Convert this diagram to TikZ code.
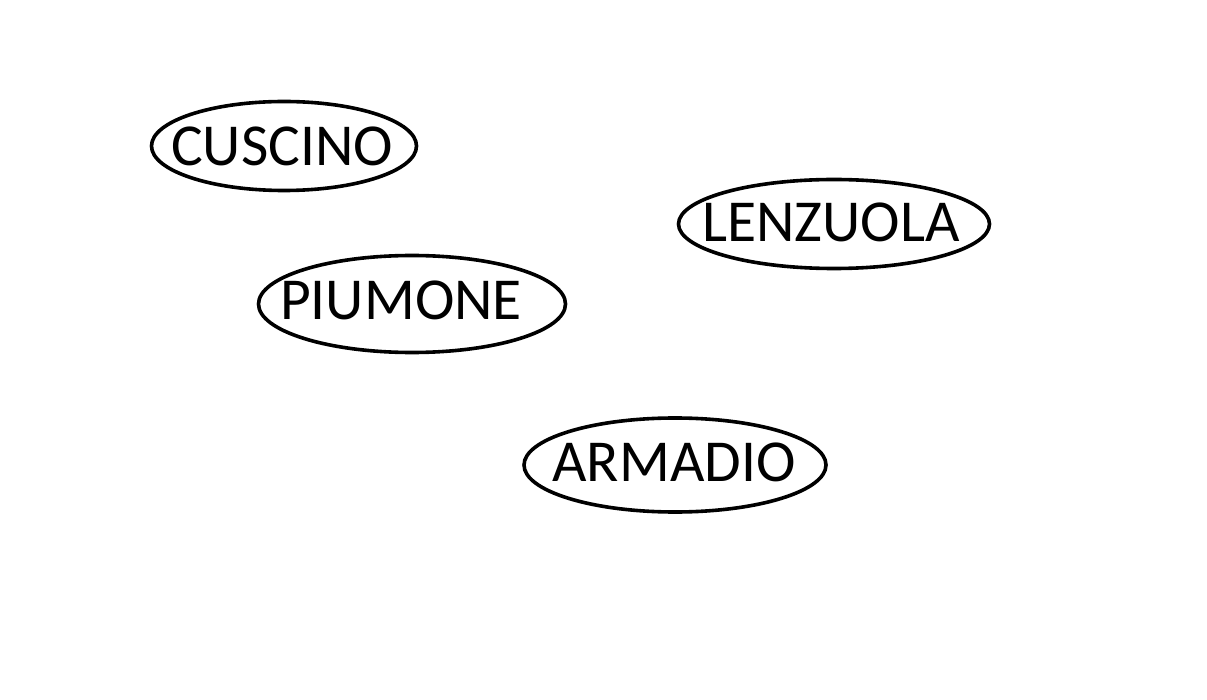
\documentclass[tikz,border=0pt]{standalone}
\usepackage{fontspec}
\setmainfont{Carlito}
\usetikzlibrary{shapes.geometric}
\begin{document}
\begin{tikzpicture}[x=1pt,y=-1pt,
  oval/.style={draw=black,line width=3.6pt,ellipse,inner sep=0pt},
  word/.style={inner sep=0pt,font=\fontsize{59.5}{59.5}\selectfont}]
\useasboundingbox[fill=white] (0,0) rectangle (1207,700);
\node[oval,minimum width=265pt,minimum height=89pt] (e1) at (284,146) {};
\node[word] (t1) at (282,146) {CUSCINO};
\node[oval,minimum width=311pt,minimum height=89pt] (e2) at (834,224) {};
\node[word] (t2) at (831,222) {LENZUOLA};
\node[oval,minimum width=307pt,minimum height=97pt] (e3) at (412,304) {};
\node[word] (t3) at (401,300) {PIUMONE};
\node[oval,minimum width=302pt,minimum height=94pt] (e4) at (675,465) {};
\node[word] (t4) at (674,462) {ARMADIO};
\end{tikzpicture}
\end{document}
